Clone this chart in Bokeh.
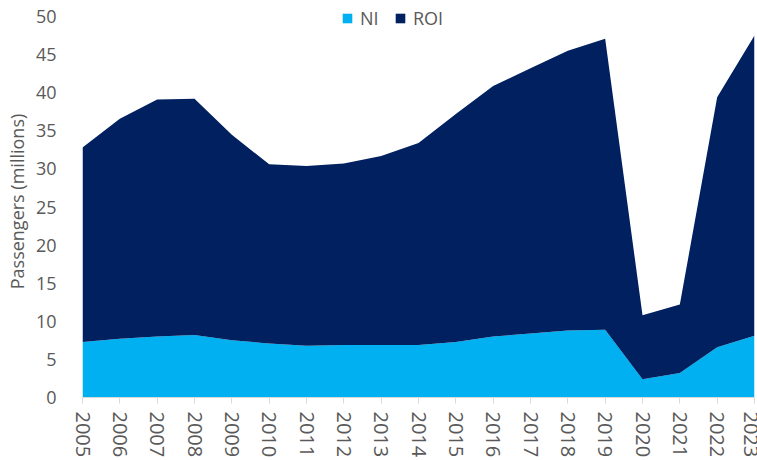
from bokeh.plotting import figure
from bokeh.models import ColumnDataSource, Range1d, FixedTicker, Legend, LegendItem
from bokeh.embed import file_html
from bokeh.resources import INLINE

years = [2005, 2006, 2007, 2008, 2009, 2010, 2011, 2012, 2013, 2014,
         2015, 2016, 2017, 2018, 2019, 2020, 2021, 2022, 2023]
ni = [7.3, 7.7, 8.0, 8.2, 7.5, 7.1, 6.8, 6.9, 6.9, 6.9,
      7.3, 8.0, 8.4, 8.8, 8.9, 2.4, 3.2, 6.6, 8.1]
roi = [25.5, 28.9, 31.1, 31.0, 27.0, 23.5, 23.6, 23.8, 24.8, 26.5,
       29.9, 32.9, 34.8, 36.7, 38.2, 8.4, 9.0, 32.8, 39.4]
series_names = ["NI", "ROI"]
series_colors = ["#00B0F0", "#002060"]
y_ticks = [0, 5, 10, 15, 20, 25, 30, 35, 40, 45, 50]

FONT = "Open Sans"
TXT = "#595959"

source = ColumnDataSource(dict(year=years, NI=ni, ROI=roi))

# y range extends slightly above the top tick so the legend (which sits at the
# level of the "50" label) is drawn inside the plotting frame
p = figure(width=757, height=460, output_backend="svg", toolbar_location=None,
           x_range=Range1d(years[0], years[-1]), y_range=Range1d(0, 51.45),
           min_border_left=82, min_border_right=3, min_border_top=5,
           min_border_bottom=63)
p.outline_line_color = None
p.background_fill_color = "white"
p.border_fill_color = "white"
p.xgrid.grid_line_color = None
p.ygrid.grid_line_color = None

rends = p.varea_stack(stackers=series_names, x="year", color=series_colors,
                      source=source)

legend = Legend(items=[LegendItem(label=n, renderers=[r]) for n, r in zip(series_names, rends)],
                orientation="horizontal", location=(259, 367),
                glyph_width=12, glyph_height=12, label_standoff=7, spacing=14,
                padding=0, margin=0, border_line_color=None,
                background_fill_alpha=0,
                label_text_font=FONT, label_text_font_size="18px",
                label_text_color=TXT)
p.add_layout(legend, "center")

xa = p.xaxis[0]
xa.ticker = FixedTicker(ticks=years)
xa.major_label_orientation = "vertical"
xa.axis_line_color = "#D9D9D9"
xa.major_tick_line_color = "#D9D9D9"
xa.major_tick_in = 0
xa.major_tick_out = 6
xa.minor_tick_line_color = None
xa.major_label_standoff = 8
xa.major_label_text_font = FONT
xa.major_label_text_font_size = "20px"
xa.major_label_text_color = TXT

ya = p.yaxis[0]
ya.ticker = FixedTicker(ticks=y_ticks)
ya.axis_line_color = None
ya.major_tick_line_color = None
ya.minor_tick_line_color = None
ya.major_label_standoff = 20
ya.major_label_text_font = FONT
ya.major_label_text_font_size = "18px"
ya.major_label_text_color = TXT
ya.axis_label = "Passengers (millions)"
ya.axis_label_text_font = FONT
ya.axis_label_text_font_size = "18px"
ya.axis_label_text_font_style = "normal"
ya.axis_label_text_color = TXT
ya.axis_label_standoff = 4

open("out.html", "w").write(file_html(p, INLINE))
